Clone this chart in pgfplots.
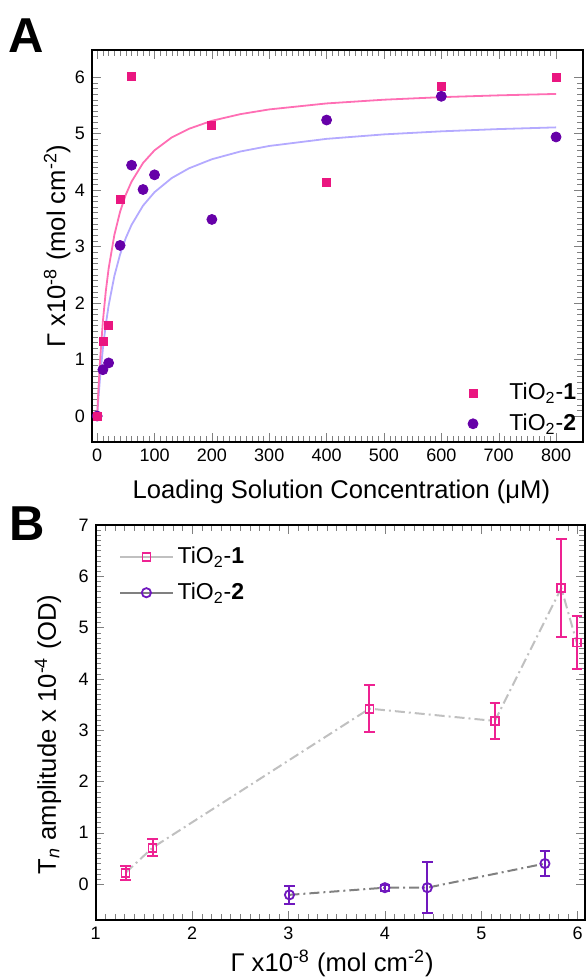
\documentclass[border=0pt]{standalone}
\usepackage{fontspec}
\setmainfont{Liberation Sans}
\usepackage{pgfplots}
\pgfplotsset{compat=1.18}

\definecolor{pinkA}{RGB}{234,22,128}
\definecolor{purpA}{RGB}{102,0,168}
\definecolor{pinkfit}{RGB}{255,110,180}
\definecolor{bluefit}{RGB}{180,170,255}
\definecolor{pinkB}{RGB}{238,34,146}
\definecolor{purpB}{RGB}{112,24,190}
\definecolor{greyL}{RGB}{192,192,192}
\definecolor{greyD}{RGB}{128,128,128}

\tikzset{
  lab/.style={font=\fontsize{12.8}{14}\selectfont,anchor=center},
  ddot/.style={line width=1pt,dash pattern=on 5pt off 2pt on 1pt off 2pt},
}
\pgfplotsset{
  panel/.style={
    scale only axis,
    axis line style={line width=1pt},
    tick label style={font=\fontsize{9}{10}\selectfont},
    /pgf/number format/assume math mode=true,
    legend cell align=left,
    legend style={draw=none,fill=none,font=\fontsize{11.5}{13}\selectfont},
  },
}

% panel B data: x, y, error
\pgfplotstableread{
x y e
1.31 0.22 0.14
1.59 0.71 0.16
3.84 3.42 0.46
5.14 3.18 0.35
5.83 5.77 0.95
5.99 4.71 0.52
}\tioone
\pgfplotstableread{
x y e
3.01 -0.21 0.17
4.00 -0.07 0.06
4.44 -0.07 0.50
5.66 0.40 0.24
}\tiotwo

\begin{document}
\begin{tikzpicture}

\node[font=\bfseries\fontsize{24.5}{25}\selectfont] at (13.3pt,-17.8pt) {A};
\node[font=\bfseries\fontsize{24.5}{25}\selectfont] at (13.8pt,-262pt) {B};

% ---- A: adsorption isotherm
\begin{axis}[panel,
  at={(46pt,-25pt)},anchor=north west,
  width=245.5pt,height=196pt,
  xmin=-9,xmax=847,ymin=-0.46,ymax=6.48,
  xtick={0,100,...,800},ytick={0,1,...,6},
  minor x tick num=9,minor y tick num=9,
  xlabel={Loading Solution Concentration (μM)},
  ylabel={Γ x10\textsuperscript{-8} (mol cm\textsuperscript{-2})},
  every axis x label/.style={lab,at={(axis description cs:0.508,-0.126)}},
  every axis y label/.style={lab,at={(axis description cs:-0.071,0.5)},rotate=90},
  legend style={at={(axis description cs:1.007,0.0)},anchor=south east,row sep=1.5pt},
  legend image code/.code={\path[draw=none,fill=none] (-0.1cm,0cm) -- (0.57cm,0cm);
    \draw[#1] plot coordinates {(0cm,0cm)};},
  reverse legend,
]
\addplot[bluefit,line width=0.9pt,forget plot] coordinates {
(0,0) (2,0.292) (5,0.675) (10,1.198) (15,1.616) (20,1.957) (30,2.480)
(40,2.862) (50,3.154) (60,3.385) (80,3.725) (100,3.963) (130,4.213)
(160,4.385) (200,4.546) (250,4.684) (300,4.781) (400,4.907) (500,4.986)
(600,5.040) (700,5.080) (800,5.110)};
\addplot[pinkfit,line width=0.9pt,forget plot] coordinates {
(0,0) (2,0.436) (5,0.980) (10,1.680) (15,2.205) (20,2.613) (30,3.207)
(40,3.618) (50,3.920) (60,4.151) (80,4.480) (100,4.704) (130,4.932)
(160,5.085) (200,5.227) (250,5.345) (300,5.428) (400,5.534) (500,5.600)
(600,5.645) (700,5.677) (800,5.702)};
\addplot[only marks,mark=*,mark size=2.5pt,purpA] coordinates {
(0,0) (10,0.82) (20,0.94) (40,3.02) (60,4.44) (80,4.01) (100,4.27)
(200,3.48) (400,5.24) (600,5.66) (800,4.94)};
\addlegendentry{TiO\textsubscript{2}-\textbf{2}}
\addplot[only marks,mark=square*,mark size=2pt,pinkA] coordinates {
(0,0) (10,1.32) (20,1.60) (40,3.84) (60,6.02) (200,5.14) (400,4.13)
(600,5.83) (800,6.00)};
\addlegendentry{TiO\textsubscript{2}-\textbf{1}}
\end{axis}

% ---- B: amplitude vs surface coverage
\begin{axis}[panel,
  at={(47.85pt,-262.5pt)},anchor=north west,
  width=244.65pt,height=197.5pt,
  xmin=1,xmax=6.076,ymin=-0.70,ymax=7,
  xtick={1,...,6},ytick={0,1,...,7},
  minor x tick num=9,minor y tick num=9,
  xlabel={Γ x10\textsuperscript{-8} (mol cm\textsuperscript{-2})},
  ylabel={T\textsubscript{\textit{n}} amplitude x 10\textsuperscript{-4} (OD)},
  every axis x label/.style={lab,at={(axis description cs:0.483,-0.109)}},
  every axis y label/.style={lab,at={(axis description cs:-0.0975,0.47)},rotate=90},
  legend style={at={(axis description cs:0.035,0.965)},anchor=north west,row sep=4pt},
  legend image code/.code={\draw[#1,solid,mark repeat=2,mark phase=2]
    plot coordinates {(0cm,0cm) (0.46cm,0cm) (0.92cm,0cm)};},
]
\addplot[greyL,ddot,mark=square,mark size=2pt,
  mark options={draw=pinkB,fill=white,solid,line width=0.9pt},
  error bars/.cd,y dir=both,y explicit,
  error bar style={draw=pinkB,line width=1pt,solid},
  error mark options={draw=pinkB,rotate=90,mark size=2.6pt,line width=1pt}]
  table[x=x,y=y,y error=e] {\tioone};
\addlegendentry{TiO\textsubscript{2}-\textbf{1}}
\addplot[greyD,ddot,mark=o,mark size=2.3pt,
  mark options={draw=purpB,fill=white,solid,line width=0.9pt},
  error bars/.cd,y dir=both,y explicit,
  error bar style={draw=purpB,line width=1pt,solid},
  error mark options={draw=purpB,rotate=90,mark size=2.6pt,line width=1pt}]
  table[x=x,y=y,y error=e] {\tiotwo};
\addlegendentry{TiO\textsubscript{2}-\textbf{2}}
\end{axis}

\pgfresetboundingbox
\useasboundingbox (0,0) rectangle (293pt,-488.5pt);
\end{tikzpicture}
\end{document}
